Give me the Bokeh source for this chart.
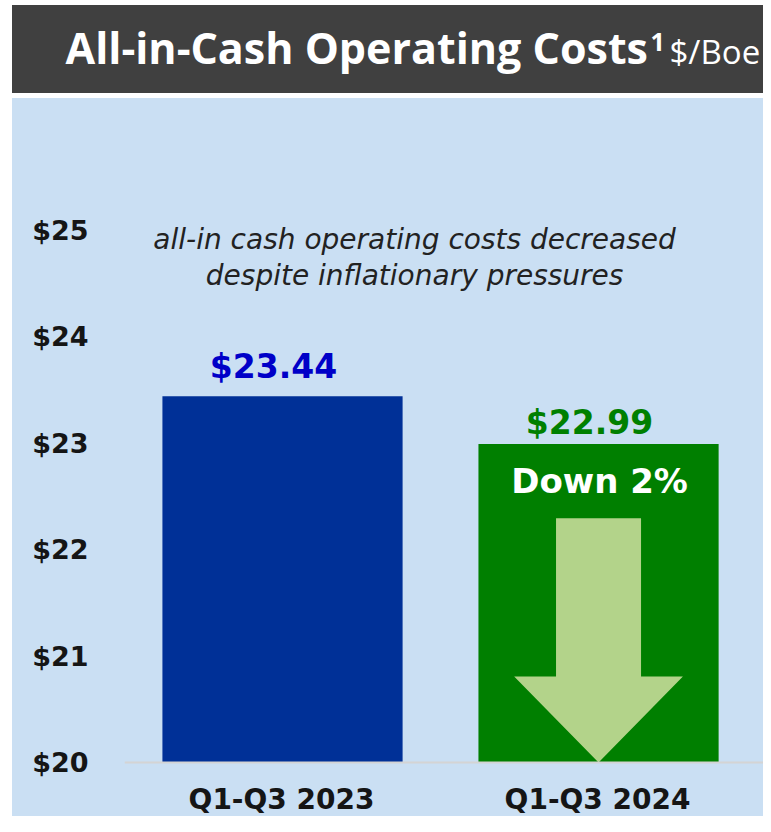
from bokeh.plotting import figure
from bokeh.layouts import column, row
from bokeh.models import Spacer, Range1d, FixedTicker, ColumnDataSource, Label, Span
from bokeh.core.properties import value
from bokeh.embed import file_html
from bokeh.resources import INLINE

# ---- data ----
categories = ["Q1-Q3 2023", "Q1-Q3 2024"]
costs = [23.44, 22.99]
cost_labels = ["$23.44", "$22.99"]
y_ticks = [20, 21, 22, 23, 24, 25]
y_tick_labels = ["$20", "$21", "$22", "$23", "$24", "$25"]
change_label = "Down 2%"
note_lines = ["all-in cash operating costs decreased", "despite inflationary pressures"]
title_main = "All-in-Cash Operating Costs"
title_sup = "1"
title_unit = "$/Boe"

# ---- styles ----
PANEL = "#cadff3"
DARK = "#404040"
BAR_COLORS = ["#003097", "#007f00"]
LABEL_COLORS = ["#0000c8", "#008000"]
ARROW = "#b3d38a"
INK = "#151515"

W = 751
BASE = 20

# ---- title bar ----
TOP_H = 88
top = figure(width=W, height=TOP_H, x_range=Range1d(0, W), y_range=Range1d(0, TOP_H),
             output_backend="svg", toolbar_location=None,
             x_axis_type=None, y_axis_type=None, min_border=0,
             background_fill_color=DARK, border_fill_color=DARK,
             outline_line_color=None)
top.grid.visible = False
top.styles = {"background-color": DARK}
top.add_layout(Label(x=53, y=46, text=title_main, text_color="white",
                     text_font="Open Sans", text_font_style="bold",
                     text_font_size="43px", text_baseline="middle"))
top.add_layout(Label(x=638, y=52, text=title_sup, text_color="white",
                     text_font="Open Sans", text_font_style="bold",
                     text_font_size="25px", text_baseline="middle"))
top.add_layout(Label(x=657, y=42, text=title_unit, text_color="white",
                     text_font="Open Sans", text_font_style="normal",
                     text_font_size="33px", text_baseline="middle"))

# ---- chart ----
xs = [i + 1 for i in range(len(categories))]
p = figure(width=W, height=718, x_range=Range1d(0.5, 2.522),
           y_range=Range1d(19.493, 26.235),
           output_backend="svg", toolbar_location=None,
           x_axis_type=None,
           min_border_left=112, min_border_right=0, min_border_top=0,
           min_border_bottom=0,
           background_fill_color=PANEL, border_fill_color=PANEL,
           outline_line_color=None)
p.grid.visible = False
p.styles = {"background-color": PANEL}

src = ColumnDataSource(dict(x=xs, top=costs, color=BAR_COLORS, label=cost_labels,
                            lcolor=LABEL_COLORS, yoff=[-30, -22], cat=categories))
p.vbar(x="x", top="top", bottom=BASE, width=0.76, fill_color="color",
       line_color=None, source=src)

# baseline (category axis line)
p.add_layout(Span(location=BASE, dimension="width", line_color="#d4d4d4", line_width=2))

p.text(x="x", y="top", text="label", text_color="lcolor", source=src,
       text_font=value("DejaVu Sans"), text_font_style="bold",
       text_font_size="33px", text_align="center", text_baseline="middle",
       x_offset=-9, y_offset="yoff")

# category labels under the baseline
p.text(x="x", y=BASE, text="cat", text_color=INK, source=src,
       text_font=value("DejaVu Sans"), text_font_style="bold",
       text_font_size="28px", text_align="center", text_baseline="middle",
       x_offset=-1, y_offset=37)

# down arrow inside second bar
cx = xs[1]
shaft = 0.1345
head = 0.267
shaft_top = 22.294
head_base = 20.808
p.patch(x=[cx - shaft, cx + shaft, cx + shaft, cx + head, cx, cx - head, cx - shaft],
        y=[shaft_top, shaft_top, head_base, head_base, BASE, head_base, head_base],
        fill_color=ARROW, line_color=None)

p.text(x=[cx], y=[costs[1]], text=[change_label], text_color="white",
       text_font=value("DejaVu Sans"), text_font_style="bold",
       text_font_size="34px", text_align="center", text_baseline="middle",
       x_offset=1, y_offset=37)

# annotation
for txt, yy in zip(note_lines, [24.908, 24.570]):
    p.add_layout(Label(x=1.418, y=yy, text=txt, text_color="#222222",
                       text_font="DejaVu Sans", text_font_style="italic",
                       text_font_size="28px", text_align="center",
                       text_baseline="middle"))

# y axis
p.yaxis.ticker = FixedTicker(ticks=y_ticks)
p.yaxis.major_label_overrides = {t: l for t, l in zip(y_ticks, y_tick_labels)}
p.yaxis.axis_line_color = None
p.yaxis.major_tick_line_color = None
p.yaxis.minor_tick_line_color = None
p.yaxis.major_tick_out = 0
p.yaxis.major_tick_in = 0
p.yaxis.major_label_standoff = 36
p.yaxis.major_label_text_font = "DejaVu Sans"
p.yaxis.major_label_text_font_style = "bold"
p.yaxis.major_label_text_font_size = "27px"
p.yaxis.major_label_text_color = INK

layout = column(Spacer(width=763, height=5),
                row(Spacer(width=12, height=TOP_H), top),
                Spacer(width=763, height=5),
                row(Spacer(width=12, height=718), p))

open("out.html", "w").write(file_html(layout, INLINE))
